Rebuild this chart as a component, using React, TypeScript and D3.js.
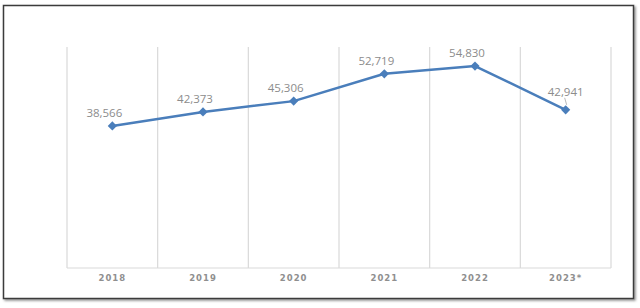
import React from "react";
import * as d3 from "d3";

const years = ["2018", "2019", "2020", "2021", "2022", "2023*"];
const values = [38566, 42373, 45306, 52719, 54830, 42941];

const W = 640;
const H = 308;
const M = { left: 67, right: 29, top: 47, bottom: 40 };

export default function App() {
  const x = d3
    .scaleBand<string>()
    .domain(years)
    .range([M.left, W - M.right])
    .padding(0);
  const y = d3.scaleLinear().domain([0, 60000]).range([H - M.bottom, M.top]);
  const cx = (d: string) => (x(d) ?? 0) + x.bandwidth() / 2;

  const line = d3
    .line<number>()
    .x((_, i) => cx(years[i]))
    .y((v) => y(v));

  const r = 4.6;
  const diamond = `M0,${-r}L${r},0L0,${r}L${-r},0Z`;
  const fmt = d3.format(",");
  const bounds = years.map((d) => x(d) ?? 0).concat([W - M.right]);
  const last = values.length - 1;

  return (
    <svg
      width={W}
      height={H}
      style={{ position: "absolute", left: 0, top: 0, background: "#fff" }}
    >
      <defs>
        <filter id="sh" x="-5%" y="-5%" width="110%" height="110%">
          <feDropShadow dx="1.5" dy="1.5" stdDeviation="1" floodColor="#000" floodOpacity="0.45" />
        </filter>
      </defs>
      <rect x={3.5} y={5.5} width={630} height={293} fill="#fff" stroke="#3a3a3a" strokeWidth={1.5} filter="url(#sh)" />
      {bounds.map((bx, i) => (
        <line key={i} x1={bx} x2={bx} y1={M.top} y2={H - M.bottom} stroke="#d9d9d9" strokeWidth={1.2} />
      ))}
      <line x1={M.left} x2={W - M.right} y1={H - M.bottom} y2={H - M.bottom} stroke="#d9d9d9" strokeWidth={1.2} />
      {years.map((d) => (
        <text
          key={d}
          x={cx(d)}
          y={H - M.bottom + 13}
          textAnchor="middle"
          fontFamily="'DejaVu Sans', sans-serif"
          fontSize={8.5}
          fontWeight="bold"
          letterSpacing={1}
          fill="#8f8f8f"
        >
          {d}
        </text>
      ))}
      <path d={line(values) ?? ""} fill="none" stroke="#4a7ebb" strokeWidth={2.5} strokeLinejoin="round" />
      {values.map((v, i) => (
        <path key={i} d={diamond} transform={`translate(${cx(years[i])},${y(v)})`} fill="#4a7ebb" />
      ))}
      <line
        x1={cx(years[last]) - 1}
        y1={y(values[last]) - 12}
        x2={cx(years[last]) + 1}
        y2={y(values[last]) - 5}
        stroke="#a6a6a6"
        strokeWidth={0.8}
      />
      {values.map((v, i) => (
        <text
          key={"l" + i}
          x={cx(years[i]) + (i === last ? 0 : -8)}
          y={y(v) - (i === last ? 14 : 9)}
          textAnchor="middle"
          fontFamily="'Liberation Sans Narrow', 'Open Sans', sans-serif"
          fontSize={11.5}
          fill="#8c8c8c"
        >
          {fmt(v)}
        </text>
      ))}
    </svg>
  );
}
